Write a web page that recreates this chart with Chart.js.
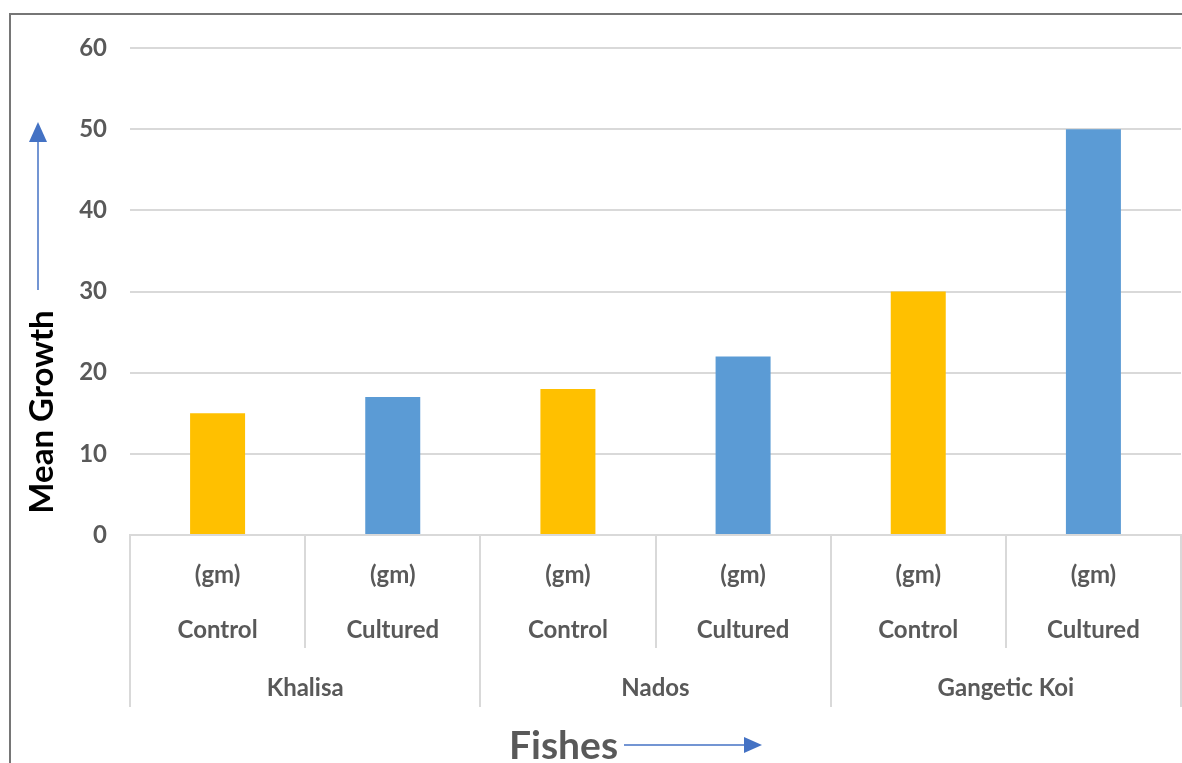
<!DOCTYPE html>
<html>
<head>
<meta charset="utf-8">
<script src="https://cdn.jsdelivr.net/npm/chart.js@4/dist/chart.umd.min.js"></script>
<style>
  html, body { margin: 0; padding: 0; background: #fff; }
  #wrap { position: relative; width: 1182px; height: 763px; }
  canvas { display: block; }
</style>
</head>
<body>
<div id="wrap"><canvas id="c" width="1182" height="763"></canvas></div>
<script>
// Fish species (outer axis level) and treatments (inner axis level)
const fishes = ['Khalisa', 'Nados', 'Gangetic Koi'];
const treatments = ['Control', 'Cultured'];
const unitLabel = '(gm)';
// Mean growth per fish / treatment, in category order
const meanGrowth = [15, 17, 18, 22, 30, 50];
const yTicks = [0, 10, 20, 30, 40, 50, 60];
const treatmentColors = { Control: '#FFC000', Cultured: '#5B9BD5' };

const FONT = 'Lato, "Open Sans", sans-serif';
const GRID = '#d9d9d9';
const TEXT = '#595959';

const categoryLabels = [];
const barColors = [];
fishes.forEach(f => treatments.forEach(t => {
  categoryLabels.push([unitLabel, t]);
  barColors.push(treatmentColors[t]);
}));

const groupAxisPlugin = {
  id: 'groupAxis',
  afterDraw(chart) {
    const ctx = chart.ctx;
    const xs = chart.scales.x;
    const area = chart.chartArea;
    const n = categoryLabels.length;
    const per = treatments.length;
    const half = (xs.getPixelForValue(1) - xs.getPixelForValue(0)) / 2;
    ctx.save();
    // separators between categories
    ctx.strokeStyle = GRID;
    ctx.lineWidth = 2;
    for (let i = 0; i <= n; i++) {
      const x = i < n ? xs.getPixelForValue(i) - half : xs.getPixelForValue(n - 1) + half;
      const outer = i % per === 0;
      ctx.beginPath();
      ctx.moveTo(Math.round(x), area.bottom);
      ctx.lineTo(Math.round(x), area.bottom + (outer ? 172 : 113));
      ctx.stroke();
    }
    // fish names
    ctx.fillStyle = TEXT;
    ctx.font = 'bold 24px ' + FONT;
    ctx.textAlign = 'center';
    ctx.textBaseline = 'middle';
    fishes.forEach((f, g) => {
      const x0 = xs.getPixelForValue(g * per);
      const x1 = xs.getPixelForValue(g * per + per - 1);
      ctx.fillText(f, (x0 + x1) / 2, area.bottom + 153);
    });
    // x axis title with arrow
    ctx.font = 'bold 39px ' + FONT;
    ctx.textAlign = 'left';
    ctx.fillText('Fishes', 509, 746);
    ctx.strokeStyle = '#4472C4';
    ctx.fillStyle = '#4472C4';
    ctx.lineWidth = 1.5;
    ctx.beginPath(); ctx.moveTo(624, 745); ctx.lineTo(746, 745); ctx.stroke();
    ctx.beginPath(); ctx.moveTo(762, 745); ctx.lineTo(744, 737); ctx.lineTo(744, 753); ctx.closePath(); ctx.fill();
    // y axis title with arrow
    ctx.beginPath(); ctx.moveTo(38, 290); ctx.lineTo(38, 140); ctx.stroke();
    ctx.beginPath(); ctx.moveTo(38, 122); ctx.lineTo(29, 142); ctx.lineTo(47, 142); ctx.closePath(); ctx.fill();
    ctx.translate(42, 412);
    ctx.rotate(-Math.PI / 2);
    ctx.fillStyle = '#000';
    ctx.font = 'bold 33px ' + FONT;
    ctx.textAlign = 'center';
    ctx.fillText('Mean Growth', 0, 0);
    ctx.restore();
    // frame
    ctx.save();
    ctx.strokeStyle = '#767676';
    ctx.lineWidth = 2;
    ctx.beginPath(); ctx.moveTo(10, 763); ctx.lineTo(10, 14); ctx.lineTo(1182, 14); ctx.stroke();
    ctx.restore();
  }
};

new Chart(document.getElementById('c'), {
  type: 'bar',
  data: {
    labels: categoryLabels,
    datasets: [{
      data: meanGrowth,
      backgroundColor: barColors,
      borderWidth: 0,
      categoryPercentage: 1,
      barPercentage: 0.314
    }]
  },
  options: {
    responsive: false,
    animation: false,
    events: [],
    layout: { padding: { top: 48, right: 1, left: 0, bottom: 0 } },
    plugins: { legend: { display: false }, tooltip: { enabled: false } },
    scales: {
      y: {
        min: 0, max: 60,
        afterBuildTicks(s) { s.ticks = yTicks.map(v => ({ value: v })); },
        afterFit(s) { s.width = 130; },
        grid: { color: GRID, lineWidth: 2, drawTicks: false },
        border: { display: false },
        ticks: { color: TEXT, font: { family: FONT, size: 24, weight: 'bold' }, padding: 23 }
      },
      x: {
        afterFit(s) { s.height = 228; },
        grid: { display: false },
        border: { color: GRID, width: 2 },
        ticks: {
          color: TEXT,
          font: { family: FONT, size: 24, weight: 'bold', lineHeight: '55px' },
          padding: 5,
          maxRotation: 0, autoSkip: false
        }
      }
    }
  },
  plugins: [groupAxisPlugin]
});
</script>
</body>
</html>
